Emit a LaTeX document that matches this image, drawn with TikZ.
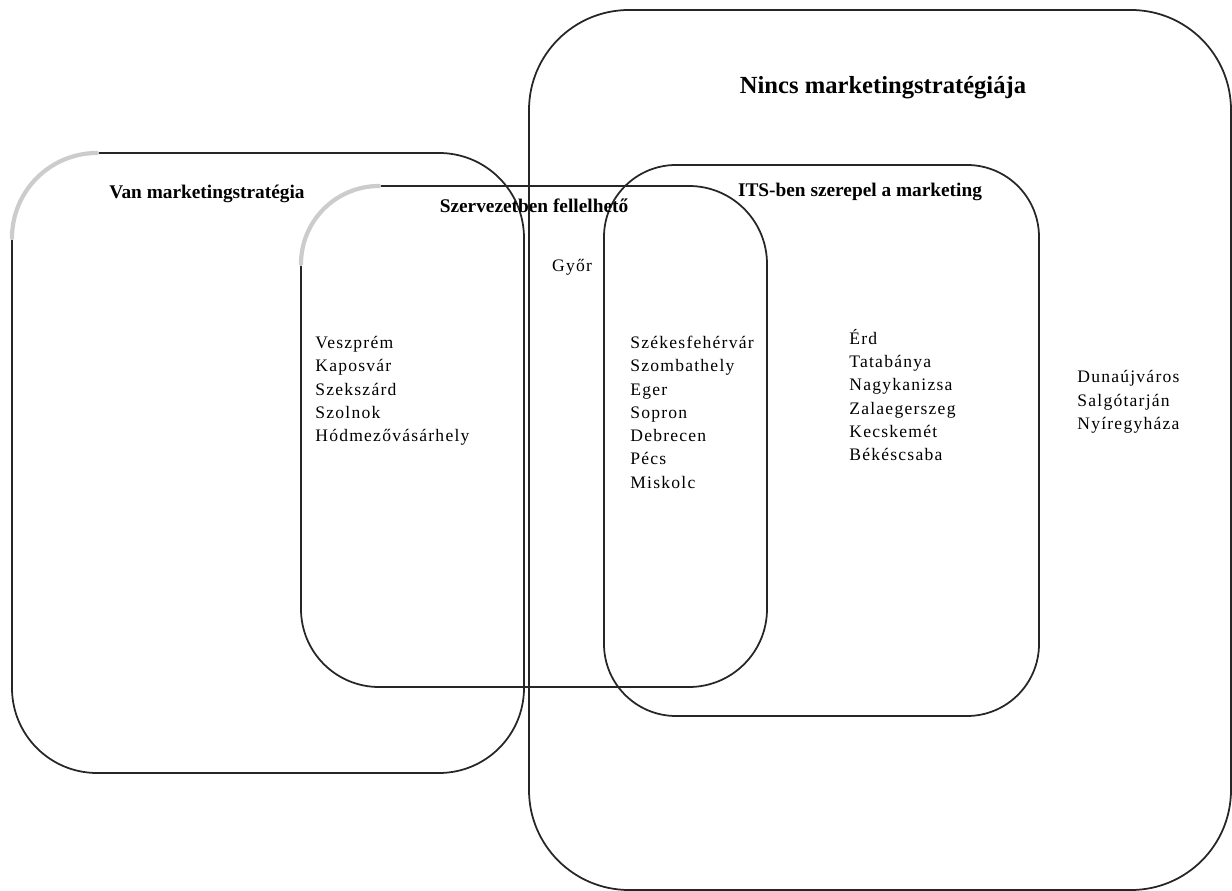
\documentclass[tikz,border=0pt]{standalone}
\usepackage{fontspec}
\setmainfont{Liberation Serif}
\newfontfamily\cityfont[LetterSpace=7]{Liberation Serif}

\begin{document}
\begin{tikzpicture}[x=0.02cm, y=-0.02cm,
    box/.style={line width=1pt, black!85},
    shade/.style={line width=2.4pt, gray!40, line cap=round},
    head/.style={anchor=base, inner sep=0pt, font=\bfseries\fontsize{11}{13}\selectfont},
    city/.style={anchor=base west, inner sep=0pt, font=\cityfont\fontsize{10}{13}\selectfont}]
    \useasboundingbox (0,0) rectangle (1232,891);
    \draw [box, rounded corners=2cm] (529,10) rectangle (1231,890);
    \draw [box, rounded corners=1.7cm] (12,153) rectangle (524,773);
    \draw [box, rounded corners=1.56cm] (301,186) rectangle (767,687);
    \draw [box, rounded corners=1.44cm] (604,165) rectangle (1039,716);
    \draw [shade] (12,238) arc [start angle=180, end angle=270, radius=85];
    \draw [shade] (301,264) arc [start angle=180, end angle=270, radius=78];
    \node[head, font=\bfseries\fontsize{14}{16}\selectfont] (a) at (883,94) {Nincs marketingstratégiája};
    \node[head] (b) at (207,199) {Van marketingstratégia};
    \node[head] (c) at (534,213) {Szervezetben fellelhető};
    \node[head] (d) at (860,197) {ITS-ben szerepel a marketing};
    \node[city, anchor=base] (e) at (572,272) {Győr};
    \node[city] (f) at (315,349) {Veszprém};
    \node[city] (g) at (315,372) {Kaposvár};
    \node[city] (h) at (315,396) {Szekszárd};
    \node[city] (i) at (315,419) {Szolnok};
    \node[city] (j) at (315,442) {Hódmezővásárhely};
    \node[city] (k) at (630,349) {Székesfehérvár};
    \node[city] (l) at (630,372) {Szombathely};
    \node[city] (m) at (630,396) {Eger};
    \node[city] (n) at (630,419) {Sopron};
    \node[city] (o) at (630,442) {Debrecen};
    \node[city] (p) at (630,465) {Pécs};
    \node[city] (q) at (630,489) {Miskolc};
    \node[city] (r) at (849,345) {Érd};
    \node[city] (s) at (849,368) {Tatabánya};
    \node[city] (t) at (849,391) {Nagykanizsa};
    \node[city] (u) at (849,415) {Zalaegerszeg};
    \node[city] (v) at (849,438) {Kecskemét};
    \node[city] (w) at (849,461) {Békéscsaba};
    \node[city] (x) at (1077,383) {Dunaújváros};
    \node[city] (y) at (1077,407) {Salgótarján};
    \node[city] (z) at (1077,430) {Nyíregyháza};
  \end{tikzpicture}
\end{document}
